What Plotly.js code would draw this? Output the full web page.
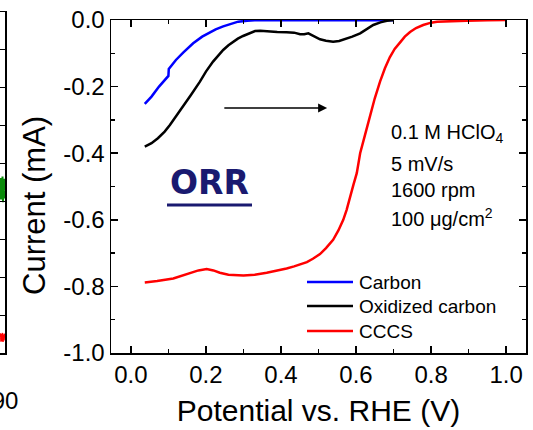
<!DOCTYPE html>
<html>
<head>
<meta charset="utf-8">
<script src="https://cdn.plot.ly/plotly-3.0.1.min.js"></script>
<style>
  html, body { margin: 0; padding: 0; background: #fff; }
  #chart { width: 533px; height: 430px; }
</style>
</head>
<body>
<div id="chart"></div>
<script>
// ORR polarisation curves (rotating disk, 0.1 M HClO4)
const seriesNames = ['Carbon', 'Oxidized carbon', 'CCCS'];
const seriesColors = ['#0000ff', '#000000', '#ff0000'];

const carbonV = [0.037, 0.055, 0.075, 0.09, 0.100, 0.101, 0.12, 0.14, 0.166, 0.19, 0.206, 0.226, 0.246, 0.266, 0.286, 0.31, 0.33, 0.40, 0.50, 0.60, 0.70];
const carbonI = [-0.252, -0.23, -0.20, -0.18, -0.168, -0.147, -0.12, -0.097, -0.07, -0.05, -0.04, -0.028, -0.019, -0.011, -0.005, -0.002, -0.001, -0.001, -0.001, -0.001, -0.001];

const oxidizedV = [0.037, 0.055, 0.072, 0.09, 0.104, 0.12, 0.139, 0.16, 0.184, 0.20, 0.219, 0.235, 0.246, 0.26, 0.273, 0.285, 0.299, 0.315, 0.331, 0.345, 0.362, 0.39, 0.415, 0.435, 0.451, 0.462, 0.473, 0.49, 0.504, 0.52, 0.539, 0.555, 0.575, 0.59, 0.611, 0.63, 0.646, 0.665, 0.682, 0.70];
const oxidizedI = [-0.38, -0.37, -0.355, -0.335, -0.315, -0.29, -0.26, -0.225, -0.185, -0.155, -0.125, -0.105, -0.09, -0.076, -0.065, -0.056, -0.048, -0.04, -0.033, -0.032, -0.034, -0.036, -0.037, -0.038, -0.043, -0.043, -0.040, -0.05, -0.058, -0.062, -0.065, -0.063, -0.056, -0.05, -0.04, -0.027, -0.015, -0.007, -0.002, 0];

const cccsV = [0.037, 0.07, 0.113, 0.157, 0.18, 0.202, 0.22, 0.237, 0.26, 0.3, 0.33, 0.362, 0.39, 0.415, 0.435, 0.451, 0.469, 0.485, 0.504, 0.52, 0.539, 0.553, 0.566, 0.575, 0.584, 0.593, 0.602, 0.611, 0.624, 0.637, 0.65, 0.664, 0.677, 0.69, 0.703, 0.717, 0.73, 0.744, 0.76, 0.779, 0.80, 0.816, 0.85, 0.895, 0.95, 1.0];
const cccsI = [-0.788, -0.784, -0.776, -0.761, -0.752, -0.748, -0.752, -0.759, -0.765, -0.767, -0.765, -0.759, -0.753, -0.746, -0.740, -0.734, -0.727, -0.717, -0.703, -0.685, -0.660, -0.632, -0.600, -0.570, -0.530, -0.495, -0.46, -0.40, -0.345, -0.29, -0.235, -0.185, -0.145, -0.112, -0.087, -0.068, -0.05, -0.036, -0.024, -0.015, -0.008, -0.005, -0.003, -0.002, -0.001, 0];

// neighbouring panel (only its right edge is in view)
const sideX = [89.0, 89.1, 89.2, 89.3, 89.4, 89.5, 89.6, 89.7, 89.8, 89.9, 90.0];
const sideGreen = [4.30, 4.62, 4.05, 4.55, 4.10, 4.66, 3.98, 4.52, 4.08, 4.60, 4.28];
const sideRed = [0.40, 0.52, 0.30, 0.50, 0.32, 0.53, 0.29, 0.49, 0.33, 0.51, 0.41];

const xTickVals = [0.0, 0.2, 0.4, 0.6, 0.8, 1.0];
const xTickText = ['0.0', '0.2', '0.4', '0.6', '0.8', '1.0'];
const yTickVals = [0.0, -0.2, -0.4, -0.6, -0.8, -1.0];
const yTickText = ['0.0', '-0.2', '-0.4', '-0.6', '-0.8', '-1.0'];

const conditions = ['0.1 M HClO<sub>4</sub>', '5 mV/s', '1600 rpm', '100 \u03bcg/cm<sup>2</sup>'];

// page geometry helpers (pixel -> paper fraction)
const M = { l: 0, r: 7, t: 12, b: 77 };
const PW = 533 - M.l - M.r, PH = 430 - M.t - M.b;
const px = p => (p - M.l) / PW;
const py = p => 1 - (p - M.t) / PH;

const FONT = 'Liberation Sans, Arial, sans-serif';

const traces = [
  { x: carbonV, y: carbonI, name: seriesNames[0] },
  { x: oxidizedV, y: oxidizedI, name: seriesNames[1] },
  { x: cccsV, y: cccsI, name: seriesNames[2] }
].map((t, i) => Object.assign(t, {
  type: 'scatter', mode: 'lines', xaxis: 'x', yaxis: 'y',
  line: { color: seriesColors[i], width: 2.5 }, showlegend: false
}));

traces.push(
  { type: 'scatter', mode: 'lines', x: sideX, y: sideGreen, xaxis: 'x2', yaxis: 'y2',
    line: { color: '#0a8a0a', width: 2 }, showlegend: false },
  { type: 'scatter', mode: 'lines', x: sideX, y: sideRed, xaxis: 'x2', yaxis: 'y2',
    line: { color: '#ff0000', width: 1.5 }, showlegend: false }
);

const axisCommon = {
  showline: true, linecolor: '#000', linewidth: 1.5,
  ticks: 'inside', tickcolor: '#000', tickwidth: 1.5, ticklen: 7,
  mirror: 'allticks', showgrid: false, zeroline: false,
  tickfont: { family: FONT, size: 24, color: '#000' }
};

const layout = {
  width: 533, height: 430,
  margin: M,
  paper_bgcolor: '#fff', plot_bgcolor: '#fff',
  showlegend: false,
  xaxis: Object.assign({}, axisCommon, {
    domain: [px(111), 1], anchor: 'y',
    range: [-0.053, 1.053], tickvals: xTickVals, ticktext: xTickText,
    minor: { dtick: 0.1, tick0: 0, ticks: 'inside', ticklen: 4, tickcolor: '#000', tickwidth: 1.5 },
    title: { text: 'Potential vs. RHE (V)', font: { family: FONT, size: 30, color: '#000' }, standoff: 12 }
  }),
  yaxis: Object.assign({}, axisCommon, {
    domain: [0, py(20)], anchor: 'x',
    range: [-1.0, 0.0], tickvals: yTickVals, ticktext: yTickText,
    minor: { dtick: 0.1, tick0: 0, ticks: 'inside', ticklen: 4, tickcolor: '#000', tickwidth: 1.5 }
  }),
  xaxis2: {
    domain: [0, px(5)], anchor: 'y2', range: [89.0, 90.0],
    showline: true, linecolor: '#000', linewidth: 1.5, mirror: true,
    ticks: '', tickvals: [90], ticktext: ['90'], showgrid: false, zeroline: false,
    ticklabelstandoff: 26, ticklabeloverflow: 'allow',
    tickfont: { family: FONT, size: 24, color: '#000' }
  },
  yaxis2: {
    domain: [0, 1], anchor: 'x2', side: 'right', range: [0, 9], dtick: 1,
    showline: true, linecolor: '#000', linewidth: 1.5,
    ticks: 'inside', ticklen: 5, tickwidth: 1.2, tickcolor: '#000',
    showticklabels: false, showgrid: false, zeroline: false
  },
  shapes: [],
  annotations: []
};

// y-axis title
layout.annotations.push({
  xref: 'paper', yref: 'paper', x: px(34), y: py(206),
  text: 'Current (mA)', textangle: -90, showarrow: false,
  xanchor: 'center', yanchor: 'middle',
  font: { family: FONT, size: 31, color: '#000' }
});

// scan direction arrow
layout.annotations.push({
  xref: 'x', yref: 'y', axref: 'x', ayref: 'y',
  x: 0.523, y: -0.264, ax: 0.245, ay: -0.264,
  text: '', showarrow: true, arrowhead: 2, arrowsize: 1.2, arrowwidth: 1.5,
  arrowcolor: '#000', standoff: 0, startstandoff: 0
});

// ORR label with underline
layout.annotations.push({
  xref: 'paper', yref: 'paper', x: px(209), y: py(182),
  text: '<b>ORR</b>', showarrow: false, xanchor: 'center', yanchor: 'middle',
  font: { family: 'DejaVu Sans, sans-serif', size: 33, color: '#1a1a70' }
});
layout.shapes.push({
  type: 'line', xref: 'paper', yref: 'paper',
  x0: px(167), x1: px(252), y0: py(205), y1: py(205),
  line: { color: '#1a1a70', width: 3 }
});

// experimental conditions
const condY = [133, 164, 190, 217];
conditions.forEach((t, i) => {
  layout.annotations.push({
    xref: 'paper', yref: 'paper', x: px(389), y: py(condY[i]),
    text: t, showarrow: false, xanchor: 'left', yanchor: 'middle',
    font: { family: FONT, size: 20, color: '#000' }
  });
});

// legend
const legY = [282, 306, 331];
seriesNames.forEach((n, i) => {
  layout.shapes.push({
    type: 'line', xref: 'paper', yref: 'paper',
    x0: px(307), x1: px(353), y0: py(legY[i]), y1: py(legY[i]),
    line: { color: seriesColors[i], width: 2.5 }
  });
  layout.annotations.push({
    xref: 'paper', yref: 'paper', x: px(357), y: py(legY[i]),
    text: n, showarrow: false, xanchor: 'left', yanchor: 'middle',
    font: { family: FONT, size: 19, color: '#000' }
  });
});

Plotly.newPlot('chart', traces, layout, { displayModeBar: false, staticPlot: true });
</script>
</body>
</html>
